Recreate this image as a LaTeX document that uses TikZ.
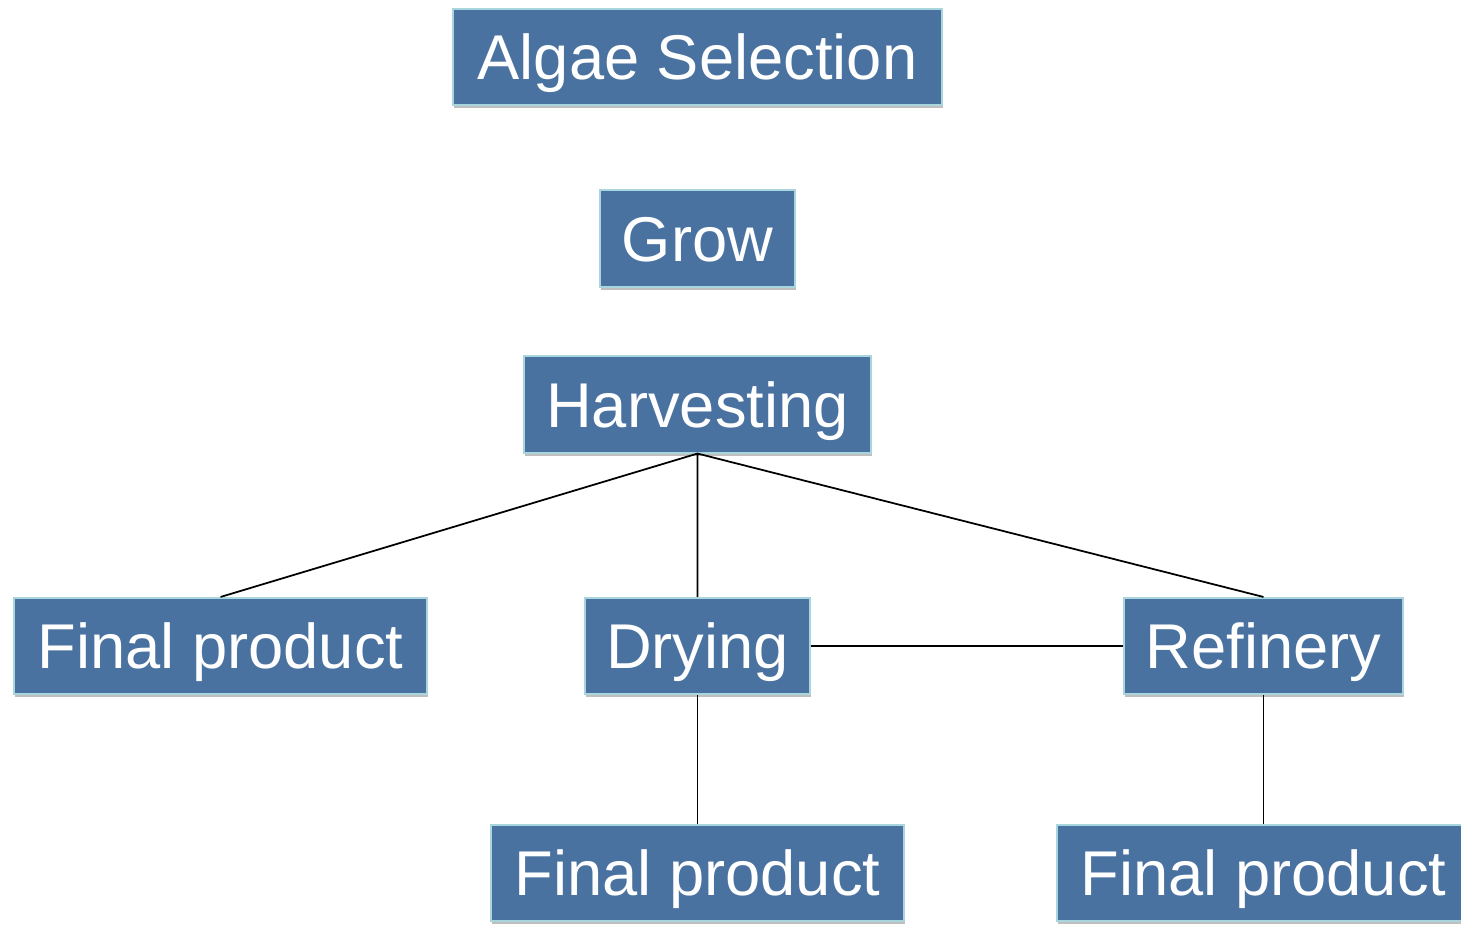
\documentclass[tikz,border=0pt]{standalone}
\usepackage{fontspec}
\setmainfont{Liberation Sans}
\usetikzlibrary{shadows}
\definecolor{boxblue}{HTML}{4A72A0}
\definecolor{boxedge}{HTML}{A9D5DC}
\begin{document}
\begin{tikzpicture}[font=\fontsize{36}{40}\selectfont,
		stage/.style={draw=boxedge, line width=0.9pt, fill=boxblue, text=white, minimum height=1.93cm, text height=25.8pt, text depth=0pt, inner sep=0pt, drop shadow={shadow xshift=0.8pt, shadow yshift=-1.8pt, opacity=0.5}},
		link/.style={black, line width=1pt}]
			\useasboundingbox (0,0) rectangle (29.22,-18.52);
			\node[stage, minimum width=9.78cm] (algae) at (13.95,-1.14) {Algae Selection};
			\node[stage, minimum width=3.9cm] (grow) at (13.95,-4.77) {Grow};
			\node[stage, minimum width=6.94cm] (harv) at (13.95,-8.09) {Harvesting};
			\node[stage, minimum width=8.26cm] (finalA) at (4.41,-12.92) {Final product};
			\node[stage, minimum width=4.5cm] (dry) at (13.95,-12.92) {Drying};
			\node[stage, minimum width=5.58cm] (refine) at (25.27,-12.92) {Refinery};
			\node[stage, minimum width=8.26cm] (finalB) at (13.95,-17.46) {Final product};
			\node[stage, minimum width=8.26cm] (finalC) at (25.27,-17.46) {Final product};
			\draw[link] (harv.south)--(finalA.north) (harv.south)--(dry.north) (harv.south)--(refine.north);
			\draw[link] (dry.east)--(refine.west);
			\draw[link] (dry.south)--(finalB.north) (refine.south)--(finalC.north);
		\end{tikzpicture}
\end{document}
